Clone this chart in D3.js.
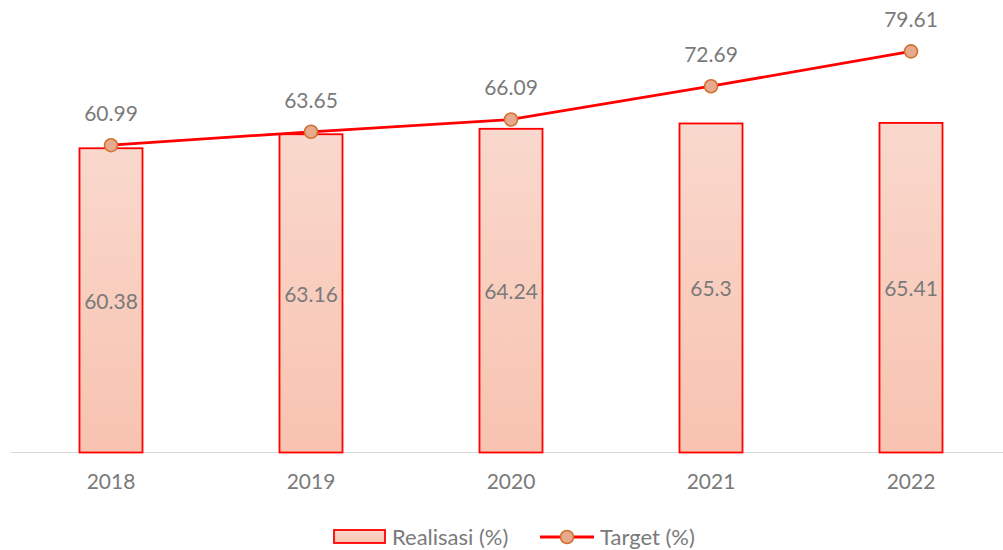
<!DOCTYPE html>
<html><head><meta charset="utf-8">
<script src="https://cdn.jsdelivr.net/npm/d3@7"></script>
<style>body{margin:0;background:#fff}svg{display:block}</style>
</head><body>
<svg id="c" width="1003" height="550"></svg>
<script>
const categories = ["2018","2019","2020","2021","2022"];
const realisasi = [60.38, 63.16, 64.24, 65.3, 65.41];
const target = [60.99, 63.65, 66.09, 72.69, 79.61];
const seriesNames = ["Realisasi (%)", "Target (%)"];

const svg = d3.select("#c");
const font = "Lato, 'Open Sans', sans-serif";
const grey = "#7a7a7a";
const x = d3.scaleBand().domain(categories).range([11, 1011]).paddingInner(0.685).paddingOuter(0.3425);
const y = d3.scaleLinear().domain([0, 90]).range([452.5, -1]);

const defs = svg.append("defs");
const g = defs.append("linearGradient").attr("id","bg").attr("x1",0).attr("y1",0).attr("x2",0).attr("y2",1);
g.append("stop").attr("offset","0%").attr("stop-color","#f9d8cd");
g.append("stop").attr("offset","100%").attr("stop-color","#f8c3b0");

// axis line
svg.append("line").attr("x1",11).attr("x2",1003).attr("y1",y(0)).attr("y2",y(0))
  .attr("stroke","#d9d9d9").attr("stroke-width",1.2);

// bars
svg.selectAll("rect.bar").data(realisasi).join("rect").attr("class","bar")
  .attr("x",(d,i)=>x(categories[i])).attr("width",x.bandwidth())
  .attr("y",d=>y(d)).attr("height",d=>y(0)-y(d))
  .attr("fill","url(#bg)").attr("stroke","#ff0000").attr("stroke-width",1.8);

// bar labels
svg.selectAll("text.bl").data(realisasi).join("text").attr("class","bl")
  .attr("x",(d,i)=>x(categories[i])+x.bandwidth()/2)
  .attr("y",d=>(y(d)+y(0))/2).attr("dy","0.4em")
  .attr("text-anchor","middle").attr("font-family",font).attr("font-size",21).attr("fill",grey)
  .text(d=>d);

// category labels
const xAxis = svg.append("g").attr("transform",`translate(0,${y(0)})`)
  .call(d3.axisBottom(x).tickSize(0).tickPadding(22));
xAxis.select(".domain").remove();
xAxis.selectAll("text").attr("font-family",font).attr("font-size",21).attr("fill",grey);

// target line
const cx = (d,i)=>x(categories[i])+x.bandwidth()/2;
svg.append("path").datum(target)
  .attr("d", d3.line().x(cx).y(d=>y(d)))
  .attr("fill","none").attr("stroke","#ff0000").attr("stroke-width",2.8);
svg.selectAll("circle.m").data(target).join("circle").attr("class","m")
  .attr("cx",cx).attr("cy",d=>y(d)).attr("r",6.5)
  .attr("fill","#e8a98f").attr("stroke","#d0722f").attr("stroke-width",1.6);
svg.selectAll("text.tl").data(target).join("text").attr("class","tl")
  .attr("x",cx).attr("y",d=>y(d)-24)
  .attr("text-anchor","middle").attr("font-family",font).attr("font-size",21).attr("fill",grey)
  .text(d=>d);

// legend
const lg = svg.append("g");
lg.append("rect").attr("x",334).attr("y",530).attr("width",51).attr("height",13)
  .attr("fill","url(#bg)").attr("stroke","#ff0000").attr("stroke-width",1.8);
lg.append("text").attr("x",392).attr("y",537).attr("dy","0.36em").attr("font-family",font)
  .attr("font-size",22).attr("fill",grey).text(seriesNames[0]);
lg.append("line").attr("x1",540).attr("x2",594).attr("y1",537).attr("y2",537)
  .attr("stroke","#ff0000").attr("stroke-width",2.8);
lg.append("circle").attr("cx",567).attr("cy",537).attr("r",6.5)
  .attr("fill","#e8a98f").attr("stroke","#d0722f").attr("stroke-width",1.6);
lg.append("text").attr("x",600).attr("y",537).attr("dy","0.36em").attr("font-family",font)
  .attr("font-size",22).attr("fill",grey).text(seriesNames[1]);
</script>
</body></html>
